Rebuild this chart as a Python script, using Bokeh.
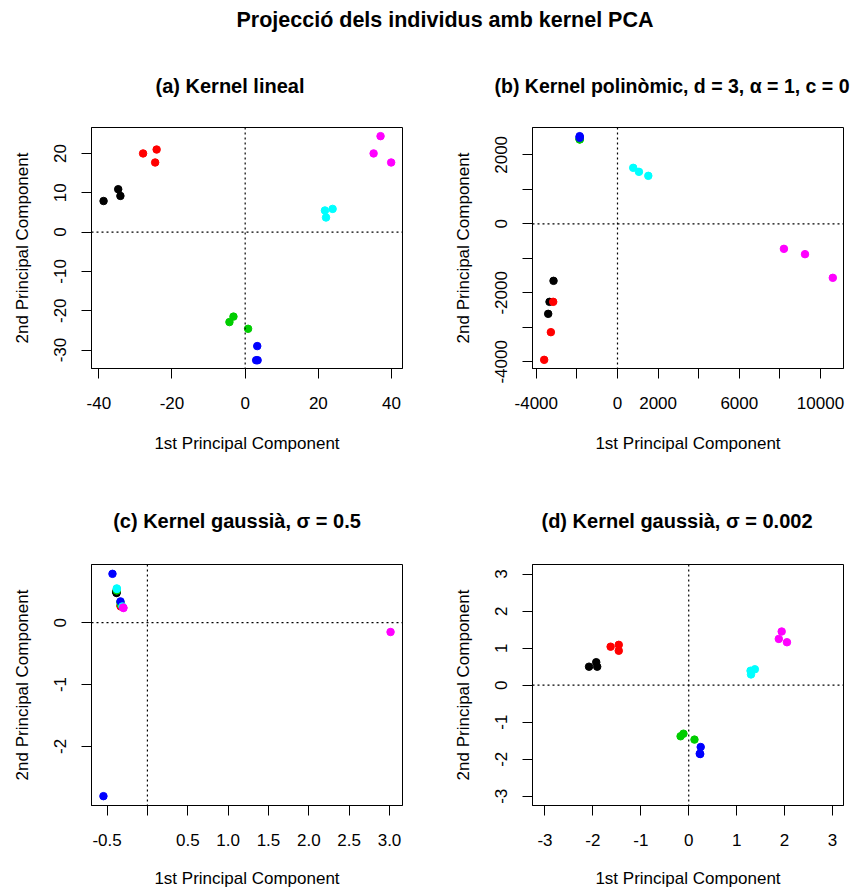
from bokeh.plotting import figure
from bokeh.models import Span, FixedTicker, Div, Range1d
from bokeh.layouts import column, row
from bokeh.embed import file_html
from bokeh.resources import INLINE

# ---------------- data ----------------
group_colors = ["#000000", "#FF0000", "#00CD00", "#0000FF", "#00FFFF", "#FF00FF"]
point_group = [0, 0, 0, 1, 1, 1, 2, 2, 2, 3, 3, 3, 4, 4, 4, 5, 5, 5]

# (a) linear kernel
a_pc1 = [-38.7, -34.7, -34.1, -27.9, -24.2, -24.6, -4.3, -3.2, 0.8,
         3.3, 3.0, 3.4, 21.8, 23.9, 22.1, 37.0, 35.1, 39.9]
a_pc2 = [7.9, 10.9, 9.2, 20.0, 21.0, 17.7, -22.9, -21.5, -24.6,
         -29.0, -32.6, -32.6, 5.5, 5.9, 3.7, 24.4, 20.0, 17.7]

# (b) polynomial kernel
b_pc1 = [-3151, -3349, -3414, -3167, -3282, -3612, -1864, -1870, -1858,
         -1864, -1864, -1862, 775, 1056, 1518, 8198, 9237, 10606]
b_pc2 = [-1652, -2261, -2609, -2261, -3140, -3942, 2444, 2460, 2450,
         2541, 2493, 2520, 1623, 1507, 1391, -725, -879, -1565]

# (c) gaussian kernel sigma = 0.5
c_pc1 = [-0.384, -0.386, -0.382, -0.334, -0.330, -0.328, -0.380, -0.335, -0.330,
         -0.433, -0.334, -0.545, -0.380, -0.310, -0.378, -0.297, 3.013, -0.300]
c_pc2 = [0.489, 0.500, 0.480, 0.269, 0.275, 0.260, 0.520, 0.330, 0.290,
         0.790, 0.344, -2.806, 0.554, 0.263, 0.545, 0.237, -0.151, 0.245]

# (d) gaussian kernel sigma = 0.002
d_pc1 = [-2.08, -1.93, -1.91, -1.63, -1.46, -1.46, -0.17, -0.11, 0.12,
         0.25, 0.24, 0.23, 1.29, 1.38, 1.30, 1.94, 1.88, 2.05]
d_pc2 = [0.50, 0.62, 0.50, 1.04, 1.09, 0.93, -1.38, -1.31, -1.47,
         -1.67, -1.86, -1.85, 0.39, 0.43, 0.29, 1.45, 1.25, 1.16]

main_title = "Projecció dels individus amb kernel PCA"
titles = ["(a) Kernel lineal",
          "(b) Kernel polinòmic, d = 3, α = 1, c = 0",
          "(c) Kernel gaussià, σ = 0.5",
          "(d) Kernel gaussià, σ = 0.002"]
x_label = "1st Principal Component"
y_label = "2nd Principal Component"

a_xticks = [-40, -20, 0, 20, 40]
a_xlabels = ["-40", "-20", "0", "20", "40"]
a_yticks = [-30, -20, -10, 0, 10, 20]
a_ylabels = ["-30", "-20", "-10", "0", "10", "20"]

b_xticks = [-4000, -2000, 0, 2000, 4000, 6000, 8000, 10000]
b_xlabels = ["-4000", "", "0", "2000", "", "6000", "", "10000"]
b_yticks = [-4000, -3000, -2000, -1000, 0, 1000, 2000]
b_ylabels = ["-4000", "", "-2000", "", "0", "", "2000"]

c_xticks = [-0.5, 0.0, 0.5, 1.0, 1.5, 2.0, 2.5, 3.0]
c_xlabels = ["-0.5", "", "0.5", "1.0", "1.5", "2.0", "2.5", "3.0"]
c_yticks = [-2, -1, 0]
c_ylabels = ["-2", "-1", "0"]

d_xticks = [-3, -2, -1, 0, 1, 2, 3]
d_xlabels = ["-3", "-2", "-1", "0", "1", "2", "3"]
d_yticks = [-3, -2, -1, 0, 1, 2, 3]
d_ylabels = ["-3", "-2", "-1", "0", "1", "2", "3"]

FONT = "Liberation Sans"
PAGE_W = 853


def make_panel(xs, ys, xrange_, yrange_, xticks, xlabels, yticks, ylabels,
               width, height, bl, br, bt, bb, xlab_standoff):
    p = figure(width=width, height=height, output_backend="svg", toolbar_location=None,
               x_range=Range1d(*xrange_), y_range=Range1d(*yrange_),
               min_border_left=bl, min_border_right=br,
               min_border_top=bt, min_border_bottom=bb)
    p.xgrid.visible = False
    p.ygrid.visible = False
    p.background_fill_color = "white"
    p.border_fill_color = "white"
    p.outline_line_color = "black"
    p.outline_line_width = 1

    for ax, ticks, labels in ((p.xaxis[0], xticks, xlabels), (p.yaxis[0], yticks, ylabels)):
        ax.ticker = FixedTicker(ticks=ticks, minor_ticks=[])
        ax.major_label_overrides = {t: l for t, l in zip(ticks, labels)}
        ax.major_tick_out = 10
        ax.major_tick_in = 0
        ax.major_tick_line_color = "black"
        ax.minor_tick_line_color = None
        ax.axis_line_color = "black"
        ax.major_label_text_font = FONT
        ax.major_label_text_font_size = "17px"
        ax.major_label_text_color = "black"
        ax.axis_label_text_font = FONT
        ax.axis_label_text_font_size = "17px"
        ax.axis_label_text_font_style = "normal"
        ax.axis_label_text_color = "black"

    p.xaxis.axis_label = x_label
    p.yaxis.axis_label = y_label
    p.xaxis.major_label_standoff = 18
    p.xaxis.axis_label_standoff = xlab_standoff
    p.yaxis.major_label_orientation = "vertical"
    p.yaxis.major_label_standoff = 15
    p.yaxis.axis_label_standoff = 20

    p.add_layout(Span(location=0, dimension="height", line_color="black",
                      line_dash="2 3", line_width=1.2))
    p.add_layout(Span(location=0, dimension="width", line_color="black",
                      line_dash="2 3", line_width=1.2))

    cols = [group_colors[g] for g in point_group]
    p.scatter(xs, ys, size=7.5, marker="circle", fill_color=cols, line_color=cols)
    return p


def title_div(items, height):
    html = ""
    for text, cx, cy, size in items:
        w = 2 * min(cx, PAGE_W - cx) - 2
        html += (f'<div style="position:absolute; left:{cx - w / 2}px; top:{cy - 15}px; '
                 f'width:{w}px; height:30px; line-height:30px; text-align:center; '
                 f'white-space:nowrap; font-family:\'{FONT}\'; font-weight:bold; '
                 f'font-size:{size}px; color:black;">{text}</div>')
    return Div(text=html, width=PAGE_W, height=height, margin=0)


# frames (absolute): left col x 91..402, right col x 532..843
# top row y 127..368, bottom row y 564..806
top_div = title_div([(main_title, 445, 20, 21.5),
                     (titles[0], 230, 86, 20),
                     (titles[1], 672, 86, 19.5)], 105)
pa = make_panel(a_pc1, a_pc2, (-42.0, 43.0), (-34.7, 26.6), a_xticks, a_xlabels,
                a_yticks, a_ylabels, 426, 355, 91, 24, 22, 92, 22)
pb = make_panel(b_pc1, b_pc2, (-4187, 11133), (-4193, 2792), b_xticks, b_xlabels,
                b_yticks, b_ylabels, 427, 355, 106, 10, 22, 92, 22)
mid_div = title_div([(titles[2], 237, 61, 20),
                     (titles[3], 677, 61, 20)], 85)
pc = make_panel(c_pc1, c_pc2, (-0.693, 3.161), (-2.957, 0.941), c_xticks, c_xlabels,
                c_yticks, c_ylabels, 426, 345, 91, 24, 19, 84, 20)
pd = make_panel(d_pc1, d_pc2, (-3.26, 3.23), (-3.25, 3.26), d_xticks, d_xlabels,
                d_yticks, d_ylabels, 427, 345, 106, 10, 19, 84, 20)

layout = column(top_div, row(pa, pb), mid_div, row(pc, pd))

open("out.html", "w").write(file_html(layout, INLINE))
